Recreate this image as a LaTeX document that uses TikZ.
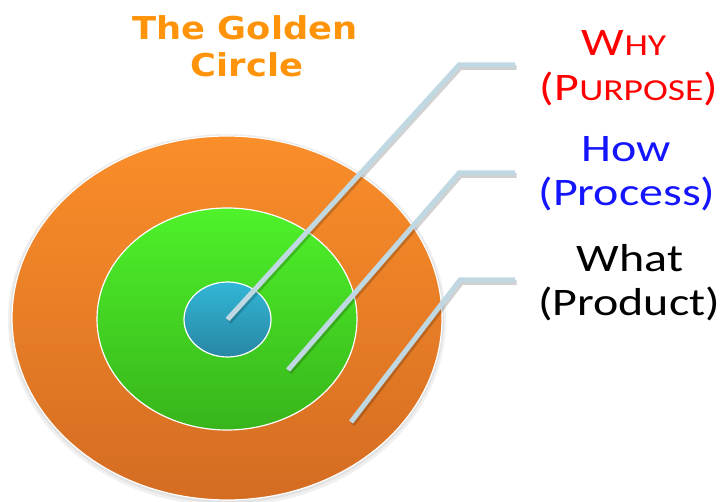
\documentclass[tikz,border=0pt]{standalone}
\usepackage{fontspec}
\usetikzlibrary{shapes.geometric}
\newfontfamily\labelfont[FakeStretch=1.23]{Carlito}
\newfontfamily\titlefont[FakeStretch=1.12]{DejaVu Sans}
\definecolor{titleorange}{RGB}{255,148,10}
\definecolor{outertop}{RGB}{250,142,42}
\definecolor{outerbot}{RGB}{212,108,34}
\definecolor{greentop}{RGB}{78,242,42}
\definecolor{greenbot}{RGB}{56,180,27}
\definecolor{bluetop}{RGB}{50,182,214}
\definecolor{bluebot}{RGB}{40,134,163}
\definecolor{leader}{RGB}{192,216,226}
\definecolor{whyred}{RGB}{255,0,0}
\definecolor{howblue}{RGB}{20,20,255}
\begin{document}
\begin{tikzpicture}[x=1pt,y=-1pt,
  ring/.style={ellipse, draw=white, line width=1.2pt, inner sep=0pt},
  leaderline/.style={line width=5pt, draw=leader, line join=miter},
  leadershadow/.style={line width=5pt, draw=black, opacity=0.18, line join=miter},
  lbl/.style={anchor=base, inner sep=0pt, font=\labelfont\fontsize{39pt}{44pt}\selectfont},
  ttl/.style={anchor=base, inner sep=0pt, text=titleorange, font=\titlefont\bfseries\fontsize{31.5pt}{37pt}\selectfont}]
\useasboundingbox (0,0) rectangle (722,502);
% soft shadow of the outer ring
\fill[black, opacity=0.06] (227,320) ellipse [x radius=219, y radius=186];
\fill[black, opacity=0.06] (227,319) ellipse [x radius=217, y radius=184];
% rings
\node[ring, minimum width=430pt, minimum height=364pt, top color=outertop, bottom color=outerbot] (outer) at (227,318) {};
\node[ring, minimum width=260pt, minimum height=222pt, top color=greentop, bottom color=greenbot] (middle) at (227,319) {};
\node[ring, minimum width=87pt, minimum height=75pt, top color=bluetop, bottom color=bluebot] (inner) at (227.5,319.5) {};
% leader coordinates
\coordinate (s2) at (288,370);
\coordinate (s3) at (351,422);
\coordinate (k1) at (459,65);
\coordinate (e1) at (515,65);
\coordinate (k2) at (459,173);
\coordinate (e2) at (515,173);
\coordinate (k3) at (460,280);
\coordinate (e3) at (515,280);
% leader shadows
\begin{scope}[transform canvas={xshift=1.5pt, yshift=-2.5pt}]
\draw[leadershadow] (inner.center) -- (k1) -- (e1);
\draw[leadershadow] (s2) -- (k2) -- (e2);
\draw[leadershadow] (s3) -- (k3) -- (e3);
\end{scope}
% leaders
\draw[leaderline] (inner.center) -- (k1) -- (e1);
\draw[leaderline] (s2) -- (k2) -- (e2);
\draw[leaderline] (s3) -- (k3) -- (e3);
% labels
\node[lbl, text=whyred] (why) at (624,56) {W{\fontsize{30.5pt}{30.5pt}\selectfont HY}};
\node[lbl, text=whyred] (purpose) at (629,101) {(P{\fontsize{30.5pt}{30.5pt}\selectfont URPOSE})};
\node[lbl, text=howblue] (how) at (626,162) {How};
\node[lbl, text=howblue] (process) at (627,206) {(Process)};
\node[lbl, text=black] (what) at (630,272) {What};
\node[lbl, text=black] (product) at (629,316) {(Product)};
% title
\node[ttl] (title1) at (245,40) {The Golden};
\node[ttl] (title2) at (247,77) {Circle};
\end{tikzpicture}
\end{document}
